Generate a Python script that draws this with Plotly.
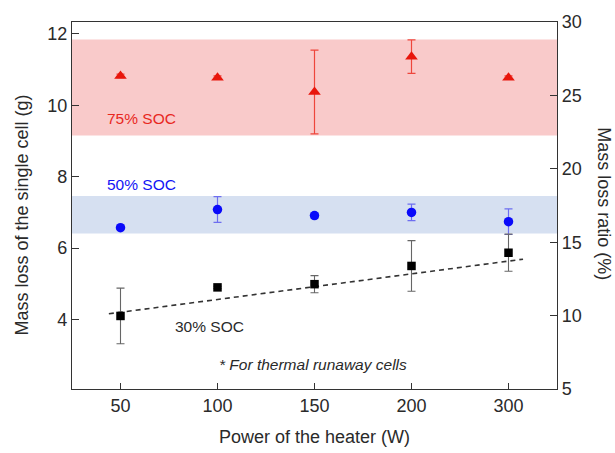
import plotly.graph_objects as go

# ---- data ----
power_labels = ["50", "100", "150", "200", "300"]
pos = list(range(len(power_labels)))

soc75_mass = [10.82, 10.77, 10.37, 11.36, 10.77]
soc75_err = [0.05, 0.05, 1.17, 0.47, 0.05]

soc50_mass = [6.57, 7.08, 6.91, 7.00, 6.74]
soc50_err = [0.02, 0.36, 0.07, 0.23, 0.36]

soc30_mass = [4.10, 4.90, 4.99, 5.50, 5.87]
soc30_err = [0.78, 0.03, 0.24, 0.71, 0.52]

fit30_x = [-0.12, 4.15]
fit30_y = [4.16, 5.69]

band75 = [9.15, 11.84]
band50 = [6.41, 7.46]

left_range = [2.055, 12.33]
right_range = [5, 30]
left_ticks = [4, 6, 8, 10, 12]
right_ticks = [5, 10, 15, 20, 25, 30]

FONT = "Liberation Sans, Arial, sans-serif"
AX = "#333333"
TXT = "#2a2a2a"

fig = go.Figure()

# bands
fig.add_shape(type="rect", xref="paper", yref="y", x0=0, x1=1,
              y0=band75[0], y1=band75[1], fillcolor="rgb(249,202,202)",
              line_width=0, layer="below")
fig.add_shape(type="rect", xref="paper", yref="y", x0=0, x1=1,
              y0=band50[0], y1=band50[1], fillcolor="rgb(214,224,241)",
              line_width=0, layer="below")

# fit line
fig.add_trace(go.Scatter(x=fit30_x, y=fit30_y, mode="lines",
                         line=dict(color="#333333", width=1.6, dash="5px,4px"),
                         showlegend=False, hoverinfo="skip"))

fig.add_trace(go.Scatter(
    x=pos, y=soc75_mass, mode="markers",
    marker=dict(symbol="triangle-up", size=11, color="rgb(232,22,12)"),
    error_y=dict(type="data", array=soc75_err, visible=True,
                 color="rgb(238,70,60)", thickness=1.2, width=4),
    showlegend=False))

fig.add_trace(go.Scatter(
    x=pos, y=soc50_mass, mode="markers",
    marker=dict(symbol="circle", size=9.5, color="rgb(10,10,250)"),
    error_y=dict(type="data", array=soc50_err, visible=True,
                 color="rgb(110,110,240)", thickness=1.2, width=4),
    showlegend=False))

fig.add_trace(go.Scatter(
    x=pos, y=soc30_mass, mode="markers",
    marker=dict(symbol="square", size=8.5, color="black"),
    error_y=dict(type="data", array=soc30_err, visible=True,
                 color="#666666", thickness=1.1, width=4),
    showlegend=False))

# invisible trace to activate right axis
fig.add_trace(go.Scatter(x=[pos[0]], y=[right_range[0]], yaxis="y2",
                         mode="markers", marker=dict(opacity=0),
                         showlegend=False, hoverinfo="skip"))

ann_font = dict(family=FONT, size=15.5)
annotations = [
    dict(x=-0.155, y=9.62, xref="x", yref="y", text="75% SOC", showarrow=False,
         xanchor="left", yanchor="middle", font=dict(ann_font, color="rgb(232,40,30)")),
    dict(x=-0.155, y=7.78, xref="x", yref="y", text="50% SOC", showarrow=False,
         xanchor="left", yanchor="middle", font=dict(ann_font, color="rgb(20,20,245)")),
    dict(x=0.54, y=3.81, xref="x", yref="y", text="30% SOC", showarrow=False,
         xanchor="left", yanchor="middle", font=dict(ann_font, color=TXT)),
    dict(x=2.97, y=2.73, xref="x", yref="y", text="<i>* For thermal runaway cells</i>",
         showarrow=False, xanchor="right", yanchor="middle",
         font=dict(ann_font, color=TXT)),
    dict(x=-0.104, y=0.474, xref="paper", yref="paper",
         text="Mass loss of the single cell (g)", showarrow=False, textangle=-90,
         xanchor="center", yanchor="middle", font=dict(family=FONT, size=18, color=TXT)),
    dict(x=1.098, y=0.505, xref="paper", yref="paper",
         text="Mass loss ratio (%)", showarrow=False, textangle=90,
         xanchor="center", yanchor="middle", font=dict(family=FONT, size=18, color=TXT)),
    dict(x=0.5, y=-0.131, xref="paper", yref="paper",
         text="Power of the heater (W)", showarrow=False,
         xanchor="center", yanchor="middle", font=dict(family=FONT, size=18, color=TXT)),
]

fig.update_layout(
    width=615, height=453,
    margin=dict(l=72, r=58, t=12, b=64, pad=0),
    paper_bgcolor="white", plot_bgcolor="rgba(0,0,0,0)",
    font=dict(family=FONT, size=18, color=TXT),
    annotations=annotations,
    xaxis=dict(range=[-0.5, 4.5], tickvals=pos, ticktext=power_labels,
               showline=True, linecolor=AX, linewidth=1.3, mirror=True,
               ticks="inside", ticklen=6, tickcolor=AX, tickwidth=1.2,
               showgrid=False, zeroline=False, ticklabelstandoff=0),
    yaxis=dict(range=left_range, tickvals=left_ticks,
               showline=True, linecolor=AX, linewidth=1.3,
               ticks="inside", ticklen=7, tickcolor=AX, tickwidth=1.2,
               showgrid=False, zeroline=False),
    yaxis2=dict(range=right_range, tickvals=right_ticks, overlaying="y", side="right",
                anchor="x", showline=True, linecolor=AX, linewidth=1.3,
                ticks="inside", ticklen=7, tickcolor=AX, tickwidth=1.2,
                showgrid=False, zeroline=False),
)

fig.write_html("out.html")
